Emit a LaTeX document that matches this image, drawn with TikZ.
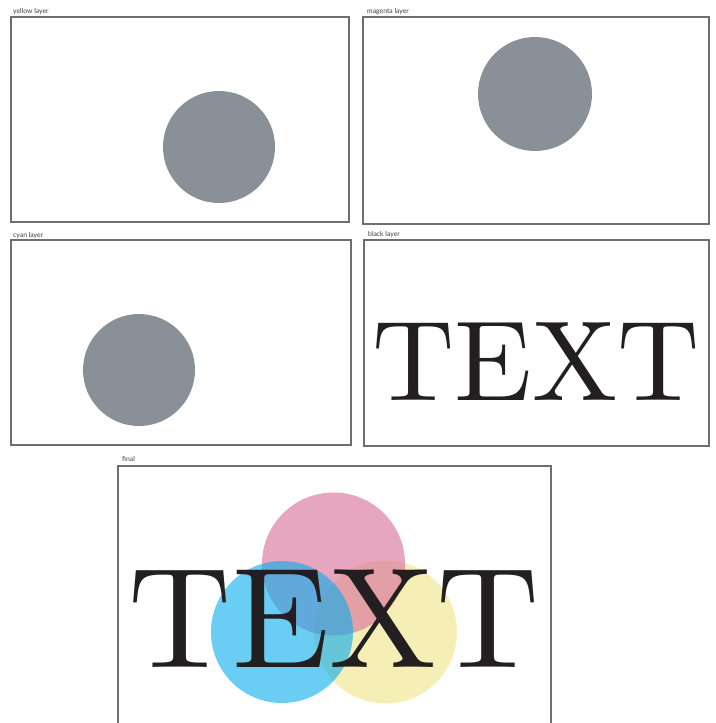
\documentclass[tikz,border=0pt]{standalone}
\usepackage{fontspec}
\newfontfamily\labelfont{Lato}
\newfontfamily\bigrm{lmroman10-regular}[Extension=.otf]
\definecolor{framegray}{RGB}{110,110,112}
\definecolor{labelgray}{RGB}{60,60,60}
\definecolor{dotgray}{RGB}{138,144,151}
\definecolor{inkblack}{RGB}{35,31,32}
\definecolor{cmyY}{RGB}{245,239,182}
\definecolor{cmyM}{RGB}{217,118,158}
\definecolor{cmyC}{RGB}{7,172,237}
\tikzset{
  layerbox/.style={draw=framegray, line width=1.1pt},
  layerlabel/.style={anchor=base west, inner sep=0pt, text=labelgray, font=\labelfont\fontsize{6.8}{7}\selectfont},
  graydot/.style={fill=dotgray, draw=none},
  bigtext/.style={anchor=base, inner sep=0pt, text=inkblack},
}
\begin{document}
\begin{tikzpicture}[x=1pt,y=-1pt]
\useasboundingbox (0,0) rectangle (715,723);
% yellow layer
\node[layerlabel] (ly) at (13,13) {yellow layer};
\draw[layerbox] (11,17) rectangle (349,222);
\fill[graydot] (219,147) circle (56);
% magenta layer
\node[layerlabel] (lm) at (367,13) {magenta layer};
\draw[layerbox] (363,17) rectangle (709,224);
\fill[graydot] (535,94) circle (57);
% cyan layer
\node[layerlabel] (lc) at (13,237) {cyan layer};
\draw[layerbox] (11,240) rectangle (351,445);
\fill[graydot] (139,370) circle (56);
% black layer
\node[layerlabel] (lk) at (368,236) {black layer};
\draw[layerbox] (364,240) rectangle (709,446);
\node[bigtext, font=\bigrm\fontsize{114}{114}\selectfont] (tk) at (536,400) {TEXT};
% final
\node[layerlabel] (lf) at (122,461) {final};
\draw[layerbox] (118,724) -- (118,466) -- (551,466) -- (551,724);
\fill[cmyY] (385.5,632) circle (71.5);
\fill[cmyM, fill opacity=0.65] (333.5,564) circle (71.5);
\fill[cmyC, fill opacity=0.6] (282,632) circle (71);
\node[bigtext, font=\bigrm\fontsize{143}{143}\selectfont] (tf) at (334.5,667) {TEXT};
\end{tikzpicture}
\end{document}
